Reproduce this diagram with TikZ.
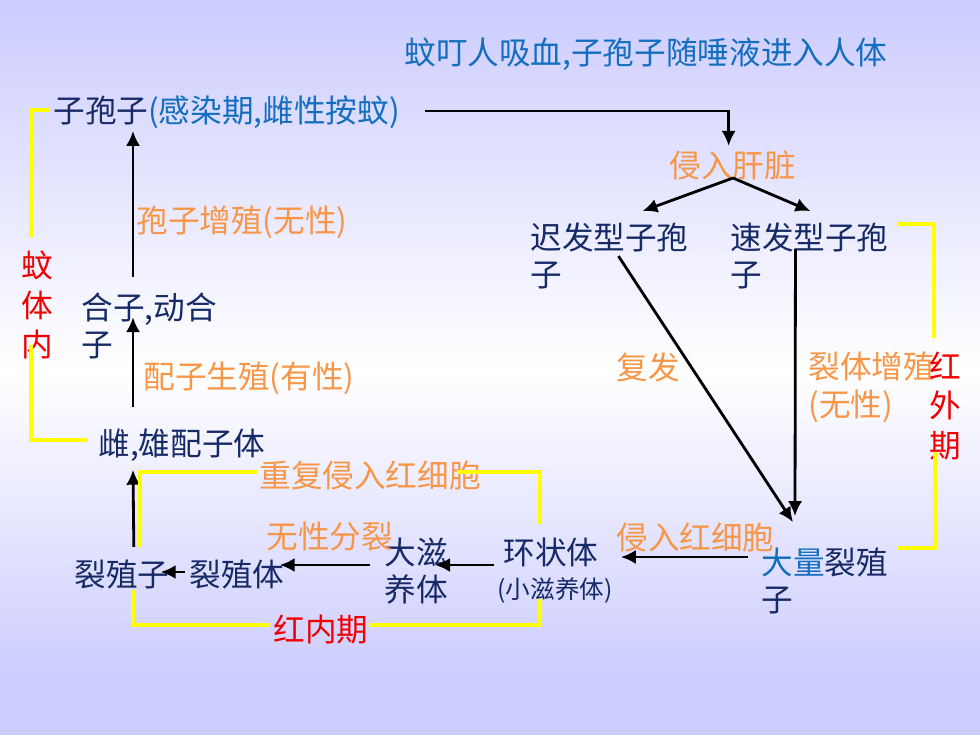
\documentclass[tikz,border=0pt]{standalone}
\usepackage{fontspec}
\setmainfont{Noto Sans CJK SC}
\usetikzlibrary{calc,arrows.meta}
\definecolor{lav}{RGB}{204,204,255}
\definecolor{navy}{RGB}{22,42,102}
\definecolor{skyblue}{RGB}{20,110,190}
\definecolor{peach}{RGB}{247,150,70}
\definecolor{hotred}{RGB}{240,0,0}
\definecolor{lemon}{RGB}{255,255,0}

\begin{document}
\begin{tikzpicture}[x=0.02cm, y=-0.02cm,
  stage/.style={inner sep=0pt, text=navy, align=left, font=\fontsize{18}{21.5}\selectfont},
  note/.style={stage, text=peach},
  phase/.style={stage, text=hotred, align=center, font=\fontsize{18}{22.5}\selectfont},
  bracket/.style={draw=lemon, line width=2pt},
  >={Latex[length=8.5pt,width=8pt]}, line width=1.6pt]
  % background
  \fill[top color=lav, bottom color=white] (0,0) rectangle (980,370);
  \fill[top color=white, bottom color=lav] (0,370) rectangle (980,680);
  \fill[lav] (0,680) rectangle (980,735);
  \useasboundingbox (0,0) rectangle (980,735);

  \node (bite) at (403,54) [stage, anchor=west, text=skyblue] {蚊叮人吸血,子孢子随唾液进入人体};
  \node (spz) at (52,112) [stage, anchor=west] {子孢子{\color{skyblue}(感染期,雌性按蚊)}};
  \node (sporog) at (135,222) [note, anchor=west] {孢子增殖(无性)};
  \node (zyg) at (80,326) [stage, anchor=west] {合子,动合\\子};
  \node (gametog) at (142,378) [note, anchor=west] {配子生殖(有性)};
  \node (gam) at (97,445) [stage, anchor=west] {雌,雄配子体};
  \node (mosq) at (37,305) [phase] {蚊\\体\\内};

  \node (liver) at (668,165) [note, anchor=west] {侵入肝脏};
  \node (hypno) at (529,256) [stage, anchor=west] {迟发型子孢\\子};
  \node (tachy) at (729,256) [stage, anchor=west] {速发型子孢\\子};
  \node (relapse) at (615,367) [note, anchor=west] {复发};
  \node (exoschiz) at (807,387) [note, anchor=west] {裂体增殖\\(无性)};
  \node (redout) at (945,406) [phase] {红\\外\\期};

  \node (invrbc) at (615,537) [note, anchor=west] {侵入红细胞};
  \node (merz) at (760,581) [stage, anchor=west] {{\color{skyblue}大量}裂殖\\子};
  \node (ring) at (551,552) [stage] {环状体};
  \node (ringsub) at (555,590) [stage, font=\fontsize{14}{17}\selectfont] {(小滋养体)};
  \node (troph) at (383,571) [stage, anchor=west] {大滋\\养体};
  \node (asex) at (265,537) [note, anchor=west] {无性分裂};
  \node (reinv) at (258,475) [note, anchor=west] {重复侵入红细胞};
  \node (schiz) at (188,575) [stage, anchor=west] {裂殖体};
  \node (mzt) at (73,575) [stage, anchor=west] {裂殖子};
  \node (redin) at (272,630) [phase, anchor=west] {红内期};

  % mosquito stage
  \draw[->] ($(zyg.north west)+(53,-14)$) to ($(spz.south west)+(81,1)$);
  \draw[->] ($(gam.north west)+(36,-20)$) to ($(zyg.north west)+(53,26)$);
  \draw[->] ($(mzt.north)+(12,-12)$) to ($(gam.south west)+(36,7)$);

  % liver stage
  \coordinate (fork) at (733,178);
  \draw[->] ($(spz.east)+(24,-1)$) -| ($(liver.north)+(-4,-3)$);
  \draw[->] (fork) to ($(hypno.north)+(33,-10)$);
  \draw[->] (fork) to ($(tachy.north)+(1,-10)$);
  \draw[->] ($(hypno.north)+(9,35)$) to ($(merz.north west)+(33,-24)$);
  \draw[->] ($(tachy.north)+(-14,28)$) to ($(merz.north west)+(35,-30)$);

  % blood stage
  \draw[->] ($(merz.west)+(-12,-24)$) to ($(ring.east)+(21,5)$);
  \draw[->] ($(ring.west)+(-8,13)$) to ($(troph.east)+(-14,-6)$);
  \draw[->] ($(troph.west)+(-13,-6)$) to ($(schiz.east)+(-6,-10)$);
  \draw[->] ($(schiz.west)+(-3,-3)$) to ($(mzt.east)+(-10,-3)$);

  % yellow brackets
  \draw[bracket] ($(spz.west)+(-2,-2)$) -| ($(mosq.north)+(-6,-12)$);
  \draw[bracket] ($(mosq.south)+(-6,-16)$) |- ($(gam.west)+(-9,-5)$);
  \draw[bracket] ($(tachy.north east)+(8,3)$) -| ($(redout.north)+(-11,-12)$);
  \draw[bracket] ($(redout.south)+(-10,-10)$) |- ($(merz.north east)+(9,2)$);
  \draw[bracket] ($(mzt.north)+(18,-12)$) |- ($(reinv.west)+(-1,-3)$);
  \draw[bracket] ($(reinv.east)+(-25,-3)$) -| ($(ring.north)+(-11,-12)$);
  \draw[bracket] ($(mzt.south)+(11,-1)$) |- ($(redin.west)+(-2,-5)$);
  \draw[bracket] ($(redin.east)+(-1,-5)$) -| ($(ringsub.south)+(-15,-5)$);
\end{tikzpicture}
\end{document}
